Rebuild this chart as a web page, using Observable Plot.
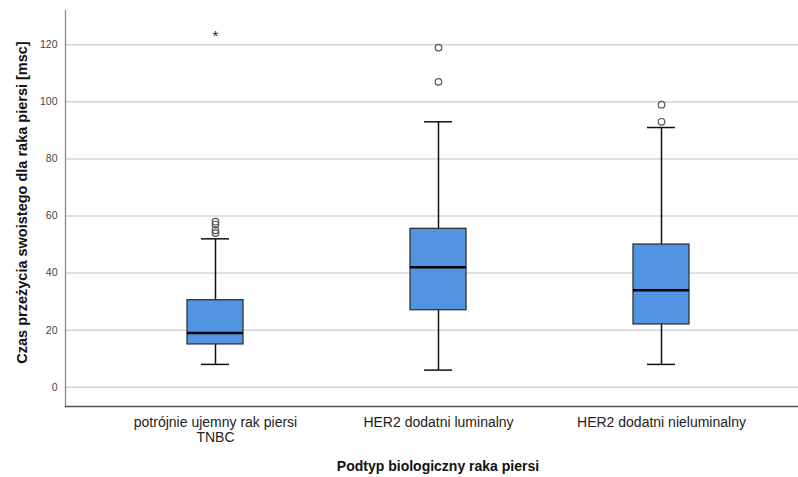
<!DOCTYPE html>
<html>
<head>
<meta charset="utf-8">
<script src="https://cdn.jsdelivr.net/npm/d3@7"></script>
<script src="https://cdn.jsdelivr.net/npm/@observablehq/plot@0.6"></script>
<style>
  html, body { margin: 0; padding: 0; background: #fff; }
  #chart svg { display: block; font-family: "Liberation Sans", Arial, sans-serif; }
</style>
</head>
<body>
<div id="chart"></div>
<script>
// Categories (x axis)
const categories = ["potrójnie ujemny rak piersi\nTNBC", "HER2 dodatni luminalny", "HER2 dodatni nieluminalny"];
// Box statistics
const whiskerLow  = [8, 6, 8];
const q1          = [15, 27, 22];
const median      = [19, 42, 34];
const q3          = [30.5, 55.5, 50];
const whiskerHigh = [52, 93, 91];
// Outliers (circles) and extreme values (stars)
const outlierCat   = [0, 0, 0, 0, 1, 1, 2, 2];
const outlierValue = [58, 57, 55, 54, 119, 107, 99, 93];
const extremeCat   = [0];
const extremeValue = [124];
// Axis ticks and titles
const yTicks = [0, 20, 40, 60, 80, 100, 120];
const yTitle = "Czas przeżycia swoistego dla raka piersi [msc]";
const xTitle = "Podtyp biologiczny raka piersi";

const boxes = categories.map((c, i) => ({
  cat: c, lo: whiskerLow[i], q1: q1[i], med: median[i], q3: q3[i], hi: whiskerHigh[i]
}));
const outliers = outlierCat.map((ci, i) => ({cat: categories[ci], value: outlierValue[i]}));
const extremes = extremeCat.map((ci, i) => ({cat: categories[ci], value: extremeValue[i]}));

const chart = Plot.plot({
  width: 798,
  height: 477,
  marginLeft: 65,
  marginRight: 0,
  marginTop: 10,
  marginBottom: 71,
  style: {fontFamily: "'Liberation Sans', Arial, sans-serif", background: "#fff"},
  x: {type: "band", domain: categories, range: [65, 810.7], paddingInner: 0.749, paddingOuter: 0.545, label: null},
  y: {domain: [-6.75, 132], label: null},
  marks: [
    Plot.ruleY(yTicks, {stroke: "#d6d6d6", strokeWidth: 1.5}),
    Plot.frame({anchor: "left", stroke: "#8c8c8c", strokeWidth: 1.3}),
    Plot.frame({anchor: "bottom", stroke: "#555", strokeWidth: 1.3}),
    Plot.axisY({ticks: yTicks, tickSize: 0, tickPadding: 8, fontSize: 10.5, fill: "#444", label: null}),
    Plot.axisX({tickSize: 0, tickPadding: 10, fontSize: 14, fill: "#222", label: null, lineHeight: 1.05}),
    Plot.ruleX(boxes, {x: "cat", y1: "lo", y2: "hi", stroke: "#111", strokeWidth: 1.5}),
    Plot.tickY(boxes, {x: "cat", y: "lo", stroke: "#111", strokeWidth: 1.5, insetLeft: 14, insetRight: 14}),
    Plot.tickY(boxes, {x: "cat", y: "hi", stroke: "#111", strokeWidth: 1.5, insetLeft: 14, insetRight: 14}),
    Plot.barY(boxes, {x: "cat", y1: "q1", y2: "q3", fill: "#5294e2", stroke: "#333", strokeWidth: 1.3}),
    Plot.tickY(boxes, {x: "cat", y: "med", stroke: "#000", strokeWidth: 2.5}),
    Plot.dot(outliers, {x: "cat", y: "value", r: 3.3, stroke: "#555", strokeWidth: 1.2, fill: "none"}),
    Plot.text(extremes, {x: "cat", y: "value", text: () => "*", fontSize: 15, fill: "#222", dy: 3}),
    Plot.text([yTitle], {frameAnchor: "left", textAnchor: "middle", rotate: -90, dx: -43, dy: -6, fontSize: 14.5, fontWeight: "bold", fill: "#111"}),
    Plot.text([xTitle], {frameAnchor: "bottom", dx: 6, dy: 64, fontSize: 14, fontWeight: "bold", fill: "#111"})
  ]
});
document.getElementById("chart").appendChild(chart);
</script>
</body>
</html>
